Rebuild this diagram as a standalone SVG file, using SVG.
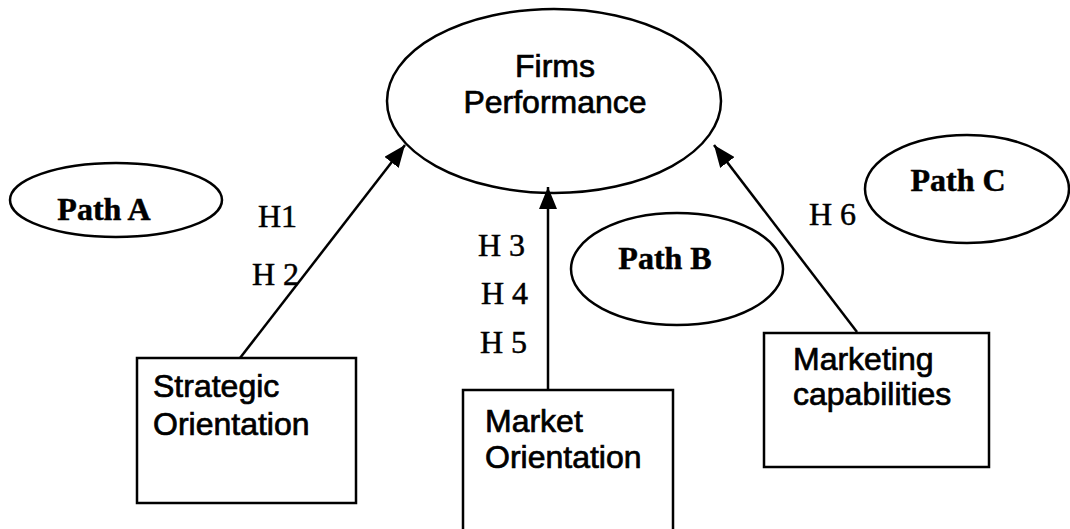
<svg xmlns="http://www.w3.org/2000/svg" width="1070" height="529" viewBox="0 0 1070 529">
  <style>
    .shape { fill: #ffffff; stroke: #000000; stroke-width: 2.5; }
    .sans { font-family: "Liberation Sans", Arial, sans-serif; font-size: 32px; fill: #000000; stroke: #000000; stroke-width: 0.7; }
    .path { font-family: "Liberation Serif", "Times New Roman", serif; font-size: 32px; font-weight: bold; fill: #000000; stroke: #000000; stroke-width: 0.5; }
    .hyp { font-family: "Liberation Serif", "Times New Roman", serif; font-size: 32px; fill: #000000; stroke: #000000; stroke-width: 0.5; }
    .conn { stroke: #000000; stroke-width: 2.5; fill: none; }
  </style>
  <defs>
    <marker id="arrow" markerUnits="userSpaceOnUse" markerWidth="22" markerHeight="18" refX="22" refY="9" orient="auto">
      <path d="M0,0 L22,9 L0,18 z" fill="#000000"/>
    </marker>
  </defs>
  <rect x="0" y="0" width="1070" height="529" fill="#ffffff"/>

  <g id="firms-performance">
    <ellipse class="shape" cx="554" cy="101" rx="167" ry="92"/>
    <text class="sans" x="555" y="77" text-anchor="middle">Firms</text>
    <text class="sans" x="555" y="113" text-anchor="middle">Performance</text>
  </g>

  <g id="path-a">
    <ellipse class="shape" cx="116" cy="200" rx="106" ry="37"/>
    <text class="path" x="104" y="220" text-anchor="middle">Path A</text>
  </g>

  <g id="path-b">
    <ellipse class="shape" cx="677" cy="269" rx="106" ry="56"/>
    <text class="path" x="665" y="269" text-anchor="middle">Path B</text>
  </g>

  <g id="path-c">
    <ellipse class="shape" cx="967" cy="189" rx="102" ry="54"/>
    <text class="path" x="958" y="191" text-anchor="middle">Path C</text>
  </g>

  <g id="strategic-orientation">
    <rect class="shape" x="137" y="358" width="219" height="145"/>
    <text class="sans" x="153" y="397">Strategic</text>
    <text class="sans" x="153" y="435">Orientation</text>
  </g>

  <g id="market-orientation">
    <rect class="shape" x="463" y="390" width="210" height="160"/>
    <text class="sans" x="485" y="432">Market</text>
    <text class="sans" x="485" y="468">Orientation</text>
  </g>

  <g id="marketing-capabilities">
    <rect class="shape" x="764" y="333" width="225" height="134"/>
    <text class="sans" x="793" y="370">Marketing</text>
    <text class="sans" x="793" y="405">capabilities</text>
  </g>

  <g id="connectors">
    <line class="conn" x1="240" y1="358" x2="405" y2="145" marker-end="url(#arrow)"/>
    <line class="conn" x1="548" y1="390" x2="548" y2="187" marker-end="url(#arrow)"/>
    <line class="conn" x1="857" y1="332" x2="714" y2="145" marker-end="url(#arrow)"/>
  </g>

  <g id="hypothesis-labels">
    <text class="hyp" x="258" y="227">H1</text>
    <text class="hyp" x="252" y="285">H 2</text>
    <text class="hyp" x="478" y="256">H 3</text>
    <text class="hyp" x="481" y="304">H 4</text>
    <text class="hyp" x="480" y="353">H 5</text>
    <text class="hyp" x="809" y="225">H 6</text>
  </g>
</svg>
